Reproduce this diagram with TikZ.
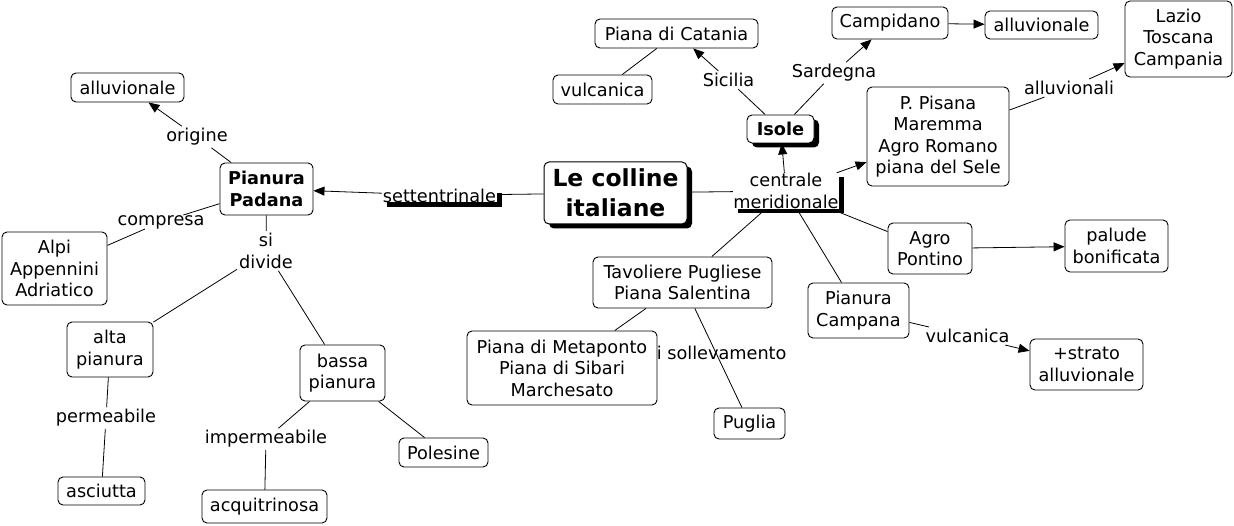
\documentclass[tikz,border=0pt]{standalone}
\usepackage{fontspec}
\setmainfont{DejaVu Sans}
\usetikzlibrary{shadows,arrows.meta,backgrounds}
\newcommand\mybody{\fontsize{17.7}{21.5}\selectfont}
\newcommand\mybig{\fontsize{23.5}{30}\selectfont\bfseries}
\tikzset{
  box/.style={draw, fill=white, rounded corners=5pt, line width=0.9pt, inner sep=0pt, align=center, font=\mybody},
  lab/.style={inner sep=2pt, align=center, font=\mybody},
  shd/.style={general shadow={fill=black, shadow xshift=5pt, shadow yshift=-4.5pt}},
  con/.style={line width=0.8pt},
  arr/.style={con, -{Triangle[length=11pt,width=9pt]}},
}
\begin{document}
\begin{tikzpicture}[x=1pt,y=-1pt]
\useasboundingbox (0,0) rectangle (1234,526);
% main
\node[box, shd, font=\mybig, line width=1pt, minimum width=143pt, minimum height=62pt] (central) at (615.5,193) {Le colline\\italiane};
\node[fill=white, shd, inner xsep=1pt, inner ysep=0pt, text depth=0pt, font=\mybody] (sett) at (439.5,195.3) {settentrinale};
\node[fill=white, shd, inner sep=0pt, minimum width=102pt, minimum height=36pt, align=center, font=\mybody] (centmer) at (786,191) {centrale\\meridionale};
% left part
\node[box, font=\mybody\bfseries, minimum width=93pt, minimum height=52pt] (padana) at (266.5,189) {Pianura\\Padana};
\node[box, minimum width=113pt, minimum height=29pt] (allL) at (127.5,87.5) {alluvionale};
\node[box, minimum width=105pt, minimum height=73pt] (alpi) at (54.5,268.5) {Alpi\\Appennini\\Adriatico};
\node[box, minimum width=86pt, minimum height=55pt] (alta) at (110,349.5) {alta\\pianura};
\node[box, minimum width=85pt, minimum height=56pt] (bassa) at (342.5,373) {bassa\\pianura};
\node[box, minimum width=87pt, minimum height=28pt] (asciutta) at (101.5,491) {asciutta};
\node[box, minimum width=125pt, minimum height=33pt] (acqui) at (264.5,506.5) {acquitrinosa};
\node[box, minimum width=89pt, minimum height=29pt] (polesine) at (443.5,452.5) {Polesine};
\node[lab] (origine) at (197,137) {origine};
\node[lab, inner sep=0pt] (compresa) at (161,222) {compresa};
\node[lab] (sidiv) at (266,251) {si\\divide};
\node[lab] (perm) at (106,418) {permeabile};
\node[lab] (imperm) at (266,439) {impermeabile};
% top part
\node[box, shd, font=\mybody\bfseries, minimum width=67pt, minimum height=28pt] (isole) at (780.5,129) {Isole};
\node[box, minimum width=163pt, minimum height=29pt] (catania) at (676.5,33.5) {Piana di Catania};
\node[box, minimum width=99pt, minimum height=29pt] (vulcT) at (602.5,89.5) {vulcanica};
\node[box, minimum width=116pt, minimum height=32pt] (campidano) at (890,23) {Campidano};
\node[box, minimum width=113pt, minimum height=28pt] (allR) at (1041.5,25) {alluvionale};
\node[box, minimum width=107pt, minimum height=76pt] (lazio) at (1178.5,39) {Lazio\\Toscana\\Campania};
\node[box, minimum width=142pt, minimum height=99pt] (pisana) at (938,136.5) {P. Pisana\\Maremma\\Agro Romano\\piana del Sele};
\node[lab] (sicilia) at (728.5,80) {Sicilia};
\node[lab] (sardegna) at (834,73) {Sardegna};
\node[lab] (alluvionali) at (1069,88) {alluvionali};
% right / bottom part
\node[box, minimum width=84pt, minimum height=51pt] (pontino) at (930,248.5) {Agro\\Pontino};
\node[box, minimum width=103pt, minimum height=52pt] (palude) at (1116.5,246) {palude\\bonificata};
\node[box, minimum width=101pt, minimum height=55pt] (campana) at (858.5,310.5) {Pianura\\Campana};
\node[box, minimum width=113pt, minimum height=51pt] (strato) at (1086.5,364.5) {+strato\\alluvionale};
\node[lab] (vulcB) at (967.5,336) {vulcanica};
\node[box, minimum width=179pt, minimum height=51pt] (tav) at (682.5,282.5) {Tavoliere Pugliese\\Piana Salentina};
\node[lab] (soll) at (716,353) {di sollevamento};
\node[box, minimum width=190pt, minimum height=74pt] (meta) at (562,368) {Piana di Metaponto\\Piana di Sibari\\Marchesato};
\node[box, minimum width=71pt, minimum height=31pt] (puglia) at (749.5,423.5) {Puglia};
% connectors
\begin{pgfonlayer}{background}
\draw[con] (central) -- (sett);
\draw[arr] (sett) -- (padana);
\draw[con] (central) -- (centmer);
\draw[arr] (centmer) -- (isole);
\draw[arr] (centmer) -- (pisana);
\draw[con] (centmer) -- (tav);
\draw[con] (centmer) -- (campana);
\draw[con] (centmer) -- (pontino);
\draw[con] (padana) -- (origine);
\draw[arr] (origine) -- (allL);
\draw[con] (padana) -- (compresa);
\draw[con] (compresa) -- (alpi);
\draw[con] (padana) -- (sidiv);
\draw[con] (sidiv) -- (alta);
\draw[con] (sidiv) -- (bassa);
\draw[con] (alta) -- (perm);
\draw[con] (perm) -- (asciutta);
\draw[con] (bassa) -- (imperm);
\draw[con] (imperm) -- (acqui);
\draw[con] (bassa) -- (polesine);
\draw[con] (isole) -- (sicilia);
\draw[arr] (sicilia) -- (catania);
\draw[con] (catania) -- (vulcT);
\draw[con] (isole) -- (sardegna);
\draw[arr] (sardegna) -- (campidano);
\draw[arr] (campidano) -- (allR);
\draw[con] (pisana) -- (alluvionali);
\draw[arr] (alluvionali) -- (lazio);
\draw[arr] (pontino) -- (palude);
\draw[con] (campana) -- (vulcB);
\draw[arr] (vulcB) -- (strato);
\draw[con] (tav) -- (meta);
\draw[con] (tav) -- (puglia);
\end{pgfonlayer}
\end{tikzpicture}
\end{document}
